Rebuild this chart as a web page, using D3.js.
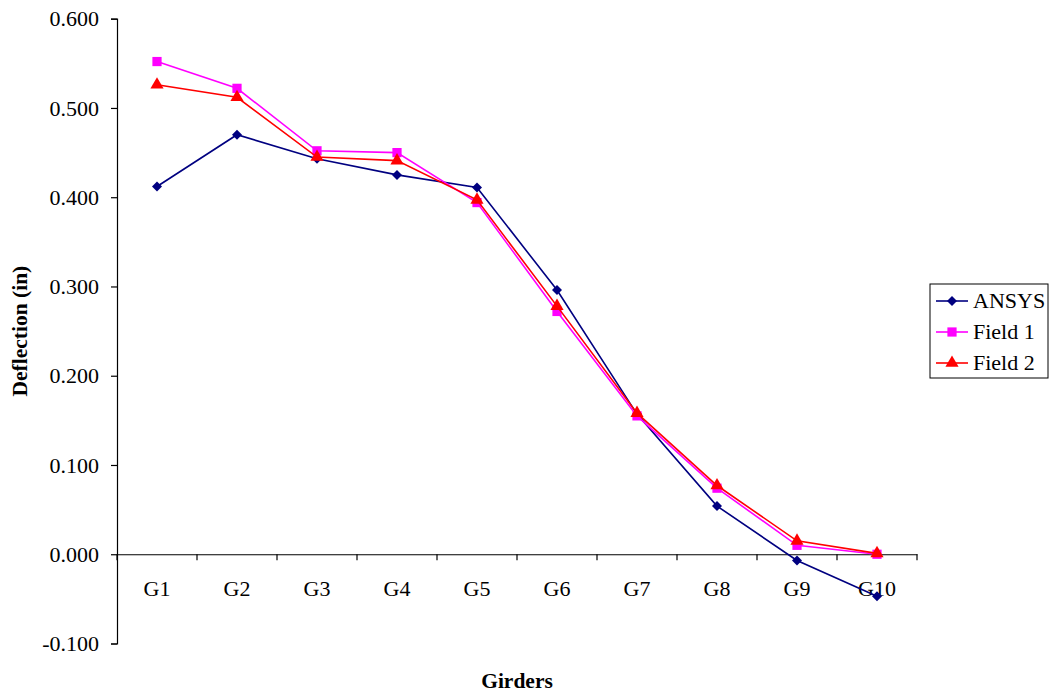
<!DOCTYPE html>
<html>
<head>
<meta charset="utf-8">
<script src="https://cdn.jsdelivr.net/npm/d3@7"></script>
<style>
  html, body { margin: 0; padding: 0; background: #fff; }
  svg text { font-family: "Liberation Serif", "Times New Roman", serif; fill: #000; }
</style>
</head>
<body>
<svg id="chart" width="1050" height="694"></svg>
<script>
// Girder deflections under load: FE model vs two field tests
const girders = ["G1", "G2", "G3", "G4", "G5", "G6", "G7", "G8", "G9", "G10"];
const ansys  = [0.412, 0.470, 0.443, 0.425, 0.411, 0.296, 0.157, 0.054, -0.007, -0.047];
const field1 = [0.552, 0.522, 0.452, 0.450, 0.394, 0.272, 0.155, 0.074, 0.010, 0.000];
const field2 = [0.526, 0.512, 0.445, 0.441, 0.397, 0.278, 0.158, 0.077, 0.015, 0.001];
const yTicks = [-0.1, 0, 0.1, 0.2, 0.3, 0.4, 0.5, 0.6];

// Diamond drawn as a square turned 45 degrees
const symbolRhombus = {
  draw(ctx, size) {
    const r = Math.sqrt(size / 2);
    ctx.moveTo(0, -r); ctx.lineTo(r, 0); ctx.lineTo(0, r); ctx.lineTo(-r, 0); ctx.closePath();
  }
};

const series = [
  { name: "ANSYS",   values: ansys,  color: "#000080", shape: symbolRhombus,     size: 50 },
  { name: "Field 1", values: field1, color: "#FF00FF", shape: d3.symbolSquare,   size: 85 },
  { name: "Field 2", values: field2, color: "#FF0000", shape: d3.symbolTriangle, size: 75 }
];

const FONT = "'Liberation Serif', 'Times New Roman', serif";
const svg = d3.select("#chart");
const plotLeft = 117, plotRight = 917, plotTop = 18.7, plotBottom = 643.5;

const x = d3.scaleBand().domain(girders).range([plotLeft, plotRight]);
const y = d3.scaleLinear().domain([-0.1, 0.6]).range([plotBottom, plotTop]);

// Value axis
const fmt = d3.format(".3f");
const yAxis = d3.axisLeft(y).tickValues(yTicks).tickSize(6).tickPadding(12)
  .tickFormat(d => fmt(d).replace("\u2212", "-"));
const gy = svg.append("g").attr("transform", `translate(${plotLeft},0)`).call(yAxis);
gy.select(".domain").attr("stroke", "#000").attr("stroke-width", 1.2);
gy.selectAll(".tick line").attr("stroke", "#000").attr("stroke-width", 1.2);
gy.selectAll(".tick text").style("font-size", "22px").style("font-family", FONT);

// Category axis sits on the zero line
const xAxis = d3.axisBottom(x).tickSize(0).tickPadding(0);
const gx = svg.append("g").attr("transform", `translate(0,${y(0)})`).call(xAxis);
gx.select(".domain").attr("stroke", "#000").attr("stroke-width", 1.2);
gx.selectAll(".tick text").attr("y", 42).attr("dy", 0)
  .style("font-size", "22px").style("font-family", FONT);
// Tick marks on band boundaries
const bounds = girders.map(g => x(g)).concat([x(girders[girders.length - 1]) + x.bandwidth()]);
svg.append("g").selectAll("line").data(bounds).join("line")
  .attr("x1", d => d).attr("x2", d => d)
  .attr("y1", y(0)).attr("y2", y(0) + 6)
  .attr("stroke", "#000").attr("stroke-width", 1.2);

// Axis titles
svg.append("text")
  .attr("transform", `translate(27,${(plotTop + plotBottom) / 2}) rotate(-90)`)
  .attr("text-anchor", "middle")
  .style("font-size", "21.5px").style("font-weight", "bold")
  .text("Deflection (in)");
svg.append("text")
  .attr("x", (plotLeft + plotRight) / 2).attr("y", 688)
  .attr("text-anchor", "middle")
  .style("font-size", "21.5px").style("font-weight", "bold")
  .text("Girders");

// Series lines and markers
const cx = g => x(g) + x.bandwidth() / 2;
const line = d3.line().x((d, i) => cx(girders[i])).y(d => y(d));

series.forEach(s => {
  svg.append("path").datum(s.values)
    .attr("d", line).attr("fill", "none")
    .attr("stroke", s.color).attr("stroke-width", 1.6);
  svg.append("g").selectAll("path").data(s.values).join("path")
    .attr("transform", (d, i) => `translate(${cx(girders[i])},${y(d)})`)
    .attr("d", d3.symbol().type(s.shape).size(s.size))
    .attr("fill", s.color);
});

// Legend
const lg = svg.append("g").attr("transform", "translate(930,284)");
lg.append("rect").attr("width", 118).attr("height", 94)
  .attr("fill", "#fff").attr("stroke", "#000").attr("stroke-width", 1);
series.forEach((s, i) => {
  const yy = 17 + i * 31;
  lg.append("line").attr("x1", 6).attr("x2", 38).attr("y1", yy).attr("y2", yy)
    .attr("stroke", s.color).attr("stroke-width", 1.6);
  lg.append("path").attr("transform", `translate(22,${yy})`)
    .attr("d", d3.symbol().type(s.shape).size(s.size)).attr("fill", s.color);
  lg.append("text").attr("x", 43).attr("y", yy + 7)
    .style("font-size", "22px").text(s.name);
});
</script>
</body>
</html>
